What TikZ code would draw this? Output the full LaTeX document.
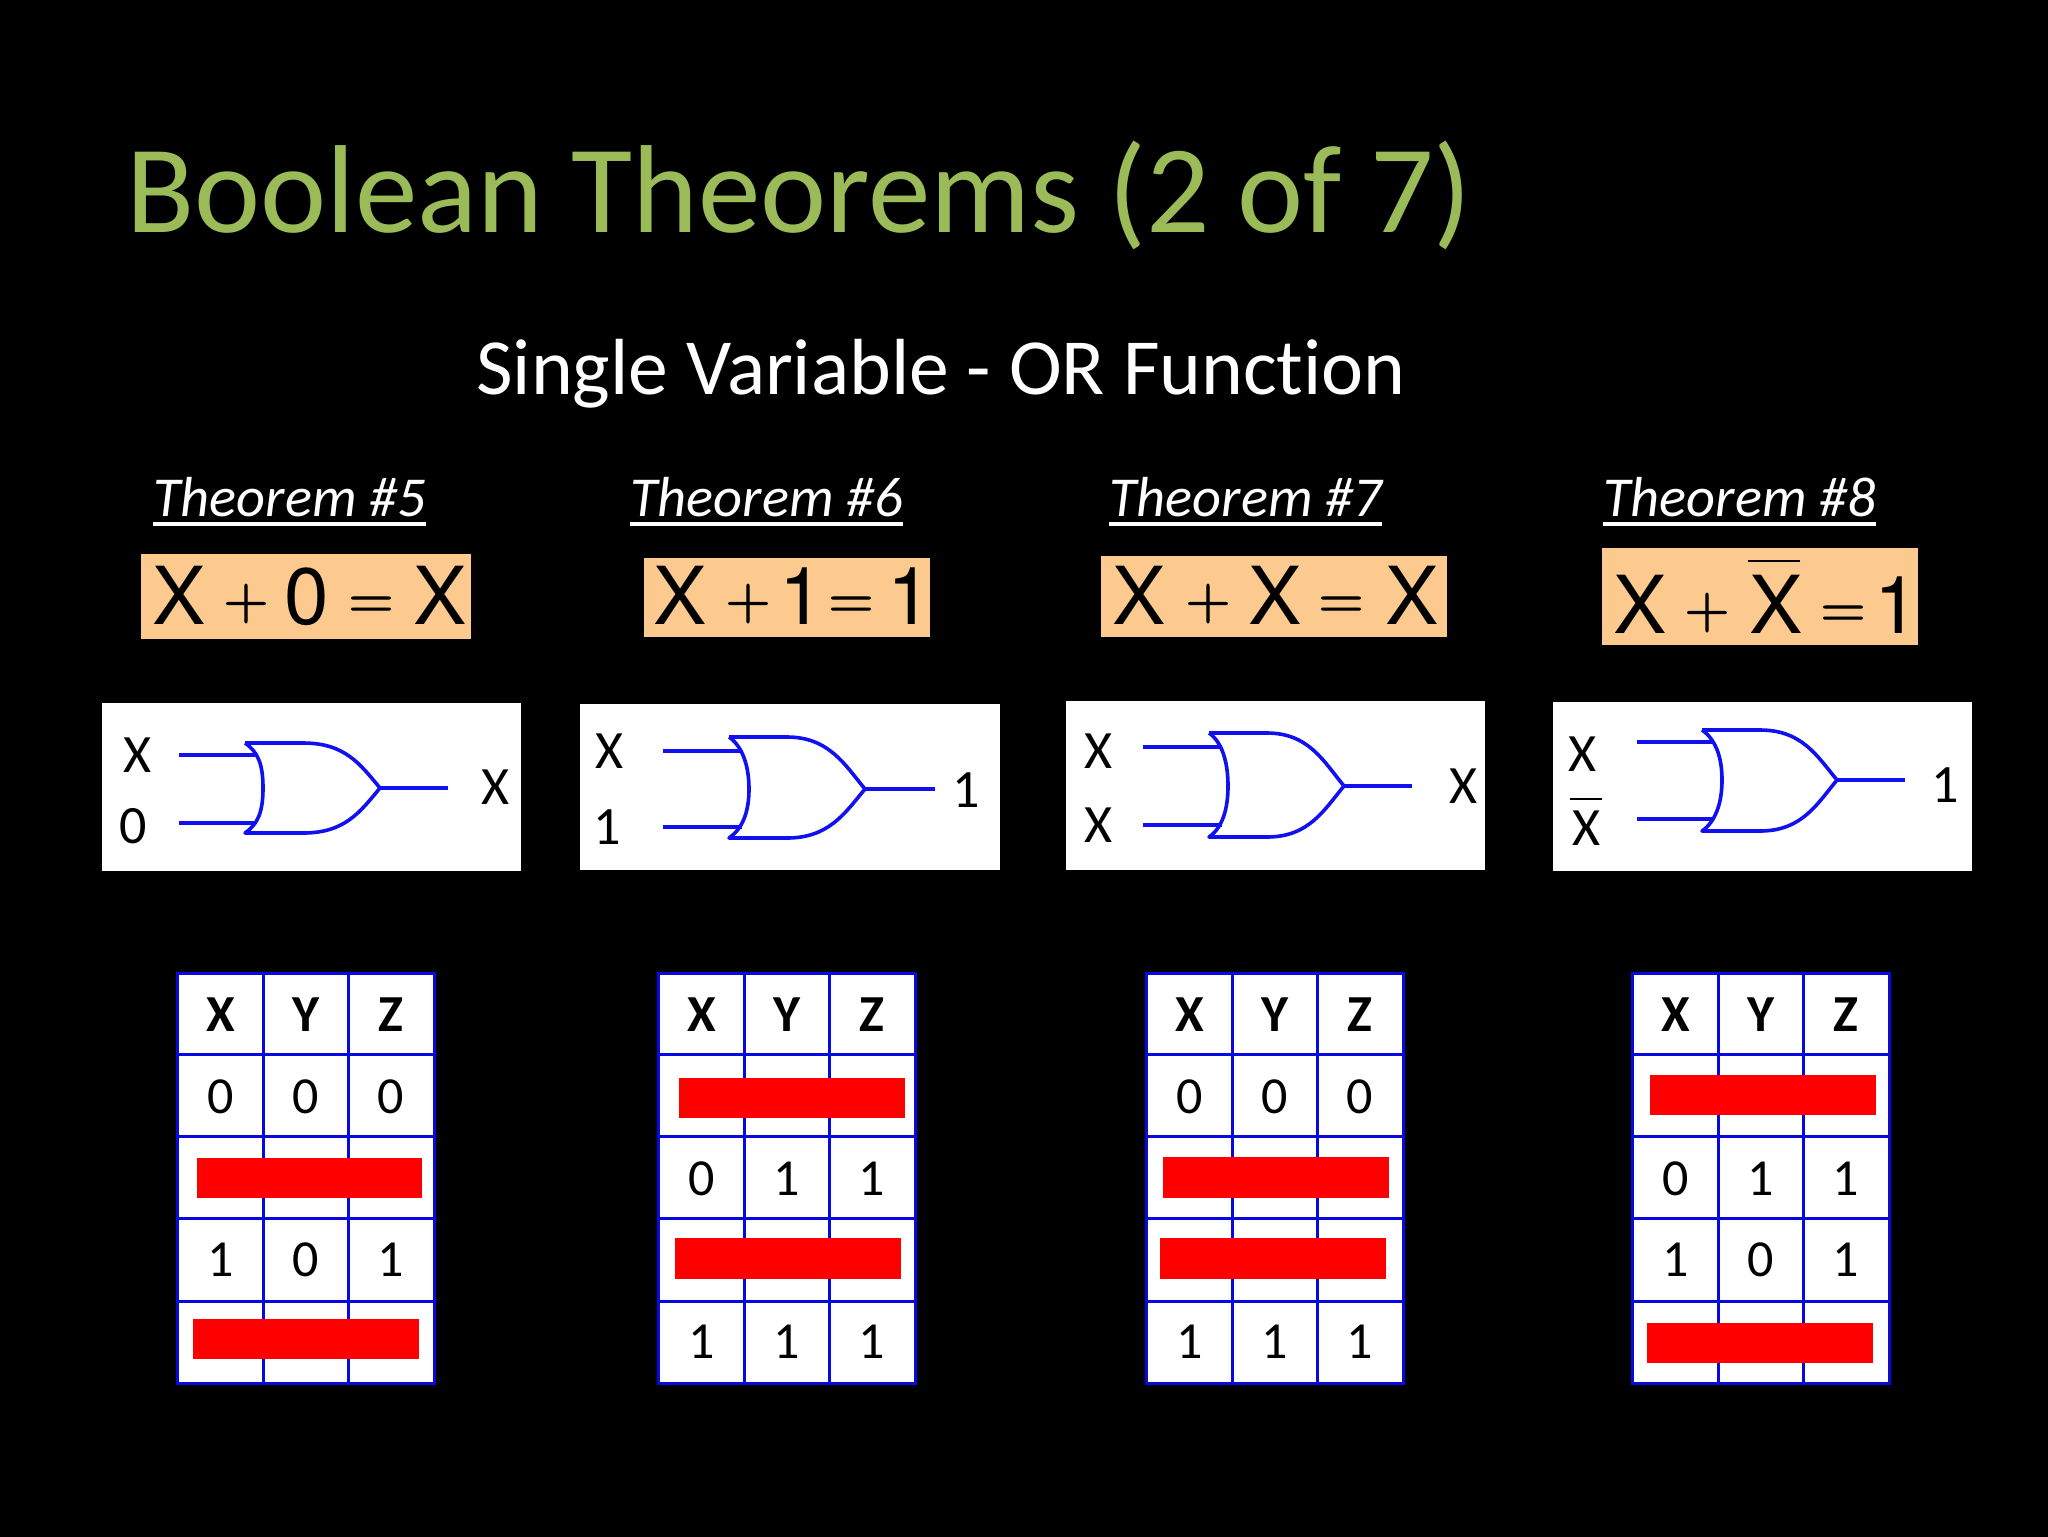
\documentclass[tikz,border=0pt]{standalone}
\usepackage{fontspec}
\setmainfont[Ligatures=NoCommon]{Carlito}
\newfontfamily\arialf{TeX Gyre Heros}
\newfontfamily\lmf[FakeBold=1.5]{Latin Modern Roman}
\definecolor{titlegreen}{HTML}{9BBB59}
\definecolor{eqorange}{HTML}{FCC98F}
\definecolor{gateblue}{HTML}{1010F0}
\definecolor{tblue}{HTML}{0808E0}
\pagecolor{black}
\tikzset{
  x=0.5pt,y=-0.5pt,
  titletext/.style={anchor=base west,inner sep=0,text=titlegreen,font=\fontsize{62.6}{70}\selectfont},
  subtext/.style={anchor=base west,inner sep=0,text=white,font=\fontsize{39.8}{44}\selectfont},
  thmtext/.style={anchor=base west,inner sep=0,text=white,font=\fontsize{28.2}{30}\selectfont\itshape},
  thmline/.style={draw=white,line width=1.6pt},
  eqbox/.style={fill=eqorange,draw=none},
  eqsym/.style={anchor=base,inner sep=0,text=black,font=\arialf\fontsize{40}{44}\selectfont},
  eqop/.style={anchor=base,inner sep=0,text=black,font=\lmf\fontsize{31}{34}\selectfont},
  gatebox/.style={fill=white,draw=none},
  gatelabel/.style={anchor=center,inner sep=0,text=black,font=\fontsize{27}{30}\selectfont},
  gateline/.style={draw=gateblue,line width=1.8pt,line join=round},
  wirethick/.style={draw=gateblue,line width=2.2pt},
  wirethin/.style={draw=gateblue,line width=1.6pt},
  cellhead/.style={anchor=base,inner sep=0,text=black,font=\fontsize{26}{30}\selectfont\bfseries},
  celltext/.style={anchor=base,inner sep=0,text=black,font=\fontsize{26}{30}\selectfont},
  gridouter/.style={draw=tblue,line width=1.5pt},
  gridinner/.style={draw=tblue,line width=1.5pt},
  redbar/.style={fill=red,draw=none},
}
\newcommand{\orgate}[7]{%
  \pgfmathsetmacro{\fx}{#2+58}%
  \pgfmathsetmacro{\gAx}{#2+100}%
  \pgfmathsetmacro{\gBx}{#6-20}%
  \pgfmathsetmacro{\gAu}{#7-24}%
  \pgfmathsetmacro{\gAd}{#7+24}%
  \pgfmathsetmacro{\bAx}{#2+13}%
  \pgfmathsetmacro{\bAu}{#3+9}%
  \pgfmathsetmacro{\bAd}{#4-9}%
  \pgfmathsetmacro{\bBu}{#7-24}%
  \pgfmathsetmacro{\bBd}{#7+24}%
  \coordinate (#1tl) at (#2,#3);
  \coordinate (#1bl) at (#2,#4);
  \coordinate (#1apex) at (#6,#7);
  \coordinate (#1mid) at (#5,#7);
  \draw[gateline] (#1tl) -- (\fx,#3) .. controls (\gAx,#3) and (\gBx,\gAu) .. (#1apex)
     .. controls (\gBx,\gAd) and (\gAx,#4) .. (\fx,#4) -- (#1bl)
     .. controls (\bAx,\bAd) and (#5,\bBd) .. (#1mid)
     .. controls (#5,\bBu) and (\bAx,\bAu) .. (#1tl);
}
\newcommand{\gatewires}[5]{%
  \pgfmathsetmacro{\wend}{#5}%
  \coordinate (#1wa) at (#2,#3);
  \coordinate (#1wb) at (#2,#4);
  \coordinate (#1wae) at (\wend,#3);
  \coordinate (#1wbe) at (\wend,#4);
  \draw[wirethick] (#1wa) -- (#1wae);
  \draw[wirethin] (#1wb) -- (#1wbe);
}
\newcommand{\ttable}[2]{%
  \pgfmathsetmacro{\ca}{#2+86}\pgfmathsetmacro{\cb}{#2+171}\pgfmathsetmacro{\cc}{#2+257}%
  \coordinate (#1nw) at (#2,973);
  \coordinate (#1se) at (\cc,1383);
  \fill[white] (#1nw) rectangle (#1se);
  \foreach \yy in {1054,1136,1218,1301} {\draw[gridinner] (#2,\yy) -- (\cc,\yy);}
  \foreach \xx in {\ca,\cb} {\draw[gridinner] (\xx,973) -- (\xx,1383);}
  \draw[gridouter] (#1nw) rectangle (#1se);
  \pgfmathsetmacro{\ta}{#2+43.5}\pgfmathsetmacro{\tb}{#2+129}\pgfmathsetmacro{\tc}{#2+214}%
  \node[cellhead] (#1hx) at (\ta,1031) {X};
  \node[cellhead] (#1hy) at (\tb,1031) {Y};
  \node[cellhead] (#1hz) at (\tc,1031) {Z};
}
\newcommand{\trow}[6]{%
  \pgfmathsetmacro{\ta}{#2+43.5}\pgfmathsetmacro{\tb}{#2+129}\pgfmathsetmacro{\tc}{#2+214}%
  \node[celltext] (#1a) at (\ta,#3) {#4};
  \node[celltext] (#1b) at (\tb,#3) {#5};
  \node[celltext] (#1c) at (\tc,#3) {#6};
}
\newcommand{\thm}[3]{%
  \node[thmtext] (#1) at (#2,516) {Theorem \##3};
  \draw[thmline] ([yshift=-4pt]#1.base west) -- ([yshift=-4pt]#1.base east);
}
\begin{document}
\begin{tikzpicture}
\useasboundingbox (0,0) rectangle (2048,1536.4);
\fill[black] (0,0) rectangle (2048,1537);

\node[titletext] (title) at (126,232) {Boolean Theorems (2 of 7)};
\node[subtext] (subtitle) at (476,394) {Single Variable - OR Function};

\thm{th5}{153}{5}
\thm{th6}{630}{6}
\thm{th7}{1109}{7}
\thm{th8}{1603}{8}

% equations
\fill[eqbox] (141,554) rectangle (471,639);
\node[eqsym] (e1a) at (179,624) {X};
\node[eqop] (e1b) at (246,619) {+};
\node[eqsym] (e1c) at (307,624) {0};
\node[eqop] (e1d) at (371,619) {=};
\node[eqsym] (e1e) at (440,624) {X};

\fill[eqbox] (644,558) rectangle (930,637);
\node[eqsym] (e2a) at (680,624) {X};
\node[eqop] (e2b) at (748,619) {+};
\node[eqsym] (e2c) at (802,624) {1};
\node[eqop] (e2d) at (851,619) {=};
\node[eqsym] (e2e) at (910,624) {1};

\fill[eqbox] (1101,556) rectangle (1447,637);
\node[eqsym] (e3a) at (1139,624) {X};
\node[eqop] (e3b) at (1208,619) {+};
\node[eqsym] (e3c) at (1275,624) {X};
\node[eqop] (e3d) at (1341,619) {=};
\node[eqsym] (e3e) at (1412,624) {X};

\fill[eqbox] (1602,548) rectangle (1918,645);
\node[eqsym] (e4a) at (1640,633) {X};
\node[eqop] (e4b) at (1707,628) {+};
\node[eqsym] (e4c) at (1776,633) {X};
\node[eqop] (e4d) at (1843,628) {=};
\node[eqsym] (e4e) at (1897,633) {1};
\draw[black,line width=1.1pt] (1748,561) -- (1800,561);

% gate panels
\fill[gatebox] (102,703) rectangle (521,871);
\gatewires{ga}{179}{755}{823}{255}
\orgate{ga}{245}{743}{833}{263}{380}{788}
\draw[wirethin] (gaapex) -- (448,788) coordinate (gaout);
\node[gatelabel] (gax) at (138,755) {X};
\node[gatelabel] (gay) at (133,826) {0};
\node[gatelabel] (gaz) at (496,787) {X};

\fill[gatebox] (580,704) rectangle (1000,870);
\gatewires{gb}{663}{751}{827}{742}
\orgate{gb}{729}{737}{838}{749}{865}{789}
\draw[wirethin] (gbapex) -- (935,789) coordinate (gbout);
\node[gatelabel] (gbx) at (610,751) {X};
\node[gatelabel] (gby) at (607,827) {1};
\node[gatelabel] (gbz) at (966,790) {1};

\fill[gatebox] (1066,701) rectangle (1485,870);
\gatewires{gc}{1143}{747}{825}{1222}
\orgate{gc}{1209}{733}{837}{1228}{1344}{786}
\draw[wirethin] (gcapex) -- (1412,786) coordinate (gcout);
\node[gatelabel] (gcx) at (1098,751) {X};
\node[gatelabel] (gcy) at (1098,825) {X};
\node[gatelabel] (gcz) at (1463,786) {X};

\fill[gatebox] (1553,702) rectangle (1972,871);
\gatewires{gd}{1637}{742}{819}{1713}
\orgate{gd}{1702}{730}{831}{1722}{1837}{780}
\draw[wirethin] (gdapex) -- (1905,780) coordinate (gdout);
\node[gatelabel] (gdx) at (1582,754) {X};
\node[gatelabel] (gdy) at (1586,828) {X};
\node[gatelabel] (gdz) at (1945,785) {1};
\draw[black,line width=1.1pt] (1570,799) -- (1602,799);

% truth tables
\ttable{ta}{177}
\trow{tar}{177}{1113}{0}{0}{0}
\trow{tas}{177}{1276}{1}{0}{1}
\fill[redbar] (197,1158) rectangle (422,1198);
\fill[redbar] (193,1319) rectangle (419,1359);

\ttable{tb}{658}
\trow{tbr}{658}{1195}{0}{1}{1}
\trow{tbs}{658}{1358}{1}{1}{1}
\fill[redbar] (679,1078) rectangle (905,1118);
\fill[redbar] (675,1238) rectangle (901,1279);

\ttable{tc}{1146}
\trow{tcr}{1146}{1113}{0}{0}{0}
\trow{tcs}{1146}{1358}{1}{1}{1}
\fill[redbar] (1163,1157) rectangle (1389,1198);
\fill[redbar] (1160,1238) rectangle (1386,1279);

\ttable{td}{1632}
\trow{tdr}{1632}{1195}{0}{1}{1}
\trow{tds}{1632}{1276}{1}{0}{1}
\fill[redbar] (1650,1075) rectangle (1876,1115);
\fill[redbar] (1647,1323) rectangle (1873,1363);
\end{tikzpicture}
\end{document}
